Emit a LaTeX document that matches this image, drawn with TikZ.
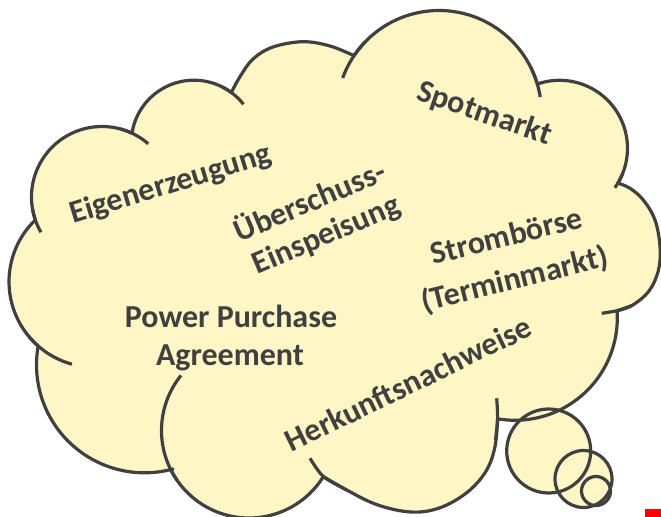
\documentclass[tikz,border=0pt]{standalone}
\usepackage{fontspec}
\setmainfont{Carlito}
\usetikzlibrary{calc}
\definecolor{cloudfill}{RGB}{255,246,198}
\definecolor{cloudline}{RGB}{64,64,64}
\definecolor{cloudtext}{RGB}{64,64,64}
\newcommand{\mycloudpath}{
  ($(102,197)+(161:70.5)$) arc[start angle=161, end angle=295.2, radius=70.5]
  -- ($(194,143)+(188.9:62.8)$) arc[start angle=188.9, end angle=306.4, radius=62.8]
  -- plot[smooth, tension=0.6] coordinates {(231.3,92.5) (240,76.7) (253,59) (273,47) (303,41.7) (330,46) (354,55.7)}
  -- ($(439,113)+(214:102.5)$) arc[start angle=214, end angle=343.6, radius=102.5]
  -- ($(559.5,148.3)+(250.9:68)$) arc[start angle=250.9, end angle=390.8, radius=68]
  -- plot[smooth, tension=0.6] coordinates {(617.9,183.1) (630,188.3) (643.3,200) (655,220) (660,246.7) (658.5,270) (649,291) (632,305.5) (617,310.7)}
  -- ($(515,318)+(355.9:102.3)$) arc[start angle=355.9, end angle=459.8, radius=102.3]
  -- plot[smooth, tension=0.6] coordinates {(497.6,418.8) (495,446.7) (486.7,470) (470,490) (446.7,505) (423.3,511.7) (400,510.7) (373.3,503.3) (346.7,490) (323.4,476.6)}
  -- ($(249,430.5)+(31.8:87.5)$) arc[start angle=31.8, end angle=153.1, radius=87.5]
  -- ($(144.5,364.8)+(74.7:108)$) arc[start angle=74.7, end angle=189.5, radius=108]
  -- ($(94.5,281.7)+(130.9:85.5)$) arc[start angle=130.9, end angle=226.2, radius=85.5]
  -- cycle
}
\tikzset{
  cloudedge/.style={draw=cloudline, line width=2.4pt, line join=round},
  bubblefill/.style={fill=cloudfill},
  lbl/.style={font=\fontsize{24}{29}\selectfont\bfseries, text=cloudtext, inner sep=0pt, anchor=base}
}
\begin{document}
\begin{tikzpicture}[x=0.75pt, y=-0.75pt]
\useasboundingbox (0,0) rectangle (661,517);
% fills
\fill[cloudfill] \mycloudpath;
\coordinate (b1) at (548.7,451);
\coordinate (b2) at (583.5,479);
\coordinate (b3) at (596,491);
\fill[bubblefill] (b1) circle[radius=42];
\fill[bubblefill] (b2) circle[radius=28.5];
\fill[bubblefill] (b3) circle[radius=14.5];
% outline
\path[cloudedge] \mycloudpath;
% inner ticks
\draw[cloudedge] ($(102,197)+(150:70.5)$) arc[start angle=150, end angle=170, radius=70.5];
\draw[cloudedge] ($(102,197)+(285:70.5)$) arc[start angle=285, end angle=311, radius=70.5];
\draw[cloudedge] ($(194,143)+(296:62.8)$) arc[start angle=296, end angle=322, radius=62.8];
\draw[cloudedge] ($(439,113)+(200:102.5)$) arc[start angle=200, end angle=224, radius=102.5];
\draw[cloudedge] ($(439,113)+(333:102.5)$) arc[start angle=333, end angle=351, radius=102.5];
\draw[cloudedge] ($(559.5,148.3)+(22:68)$) arc[start angle=22, end angle=35.5, radius=68];
\draw[cloudedge] plot[smooth] coordinates {(632,305.5) (617,310.7) (601.7,313.3)};
\draw[cloudedge] plot[smooth] coordinates {(496.7,398.3) (497.6,418.8) (495.5,440)};
\draw[cloudedge] plot[smooth] coordinates {(346.7,490) (323.4,476.6) (310,458.3)};
\draw[cloudedge] ($(249,430.5)+(145:87.5)$) arc[start angle=145, end angle=219, radius=87.5];
\draw[cloudedge] ($(94.5,281.7)+(105.3:85.5)$) arc[start angle=105.3, end angle=140, radius=85.5];
% bubbles outlines
\draw[cloudedge] (b1) circle[radius=42];
\draw[cloudedge] (b2) circle[radius=28.5];
\draw[cloudedge] (b3) circle[radius=14.5];
% texts
\node[lbl, rotate=17] (eigen) at (173.3,193) {Eigenerzeugung};
\node[lbl, rotate=23] (ueber) at (314,211) {Überschuss-};
\node[lbl, rotate=23] (einsp) at (330,243.6) {Einspeisung};
\node[lbl, rotate=-19] (spot) at (481.6,122.1) {Spotmarkt};
\node[lbl, rotate=14] (strom) at (509,246) {Strombörse};
\node[lbl, rotate=14] (termin) at (517,289) {(Terminmarkt)};
\node[lbl] (power) at (231,327) {Power Purchase};
\node[lbl] (agree) at (230,365) {Agreement};
\node[lbl, rotate=26] (herk) at (413,393.6) {Herkunftsnachweise};
% red marker
\fill[red] (645,509) rectangle (661,517);
\end{tikzpicture}
\end{document}
